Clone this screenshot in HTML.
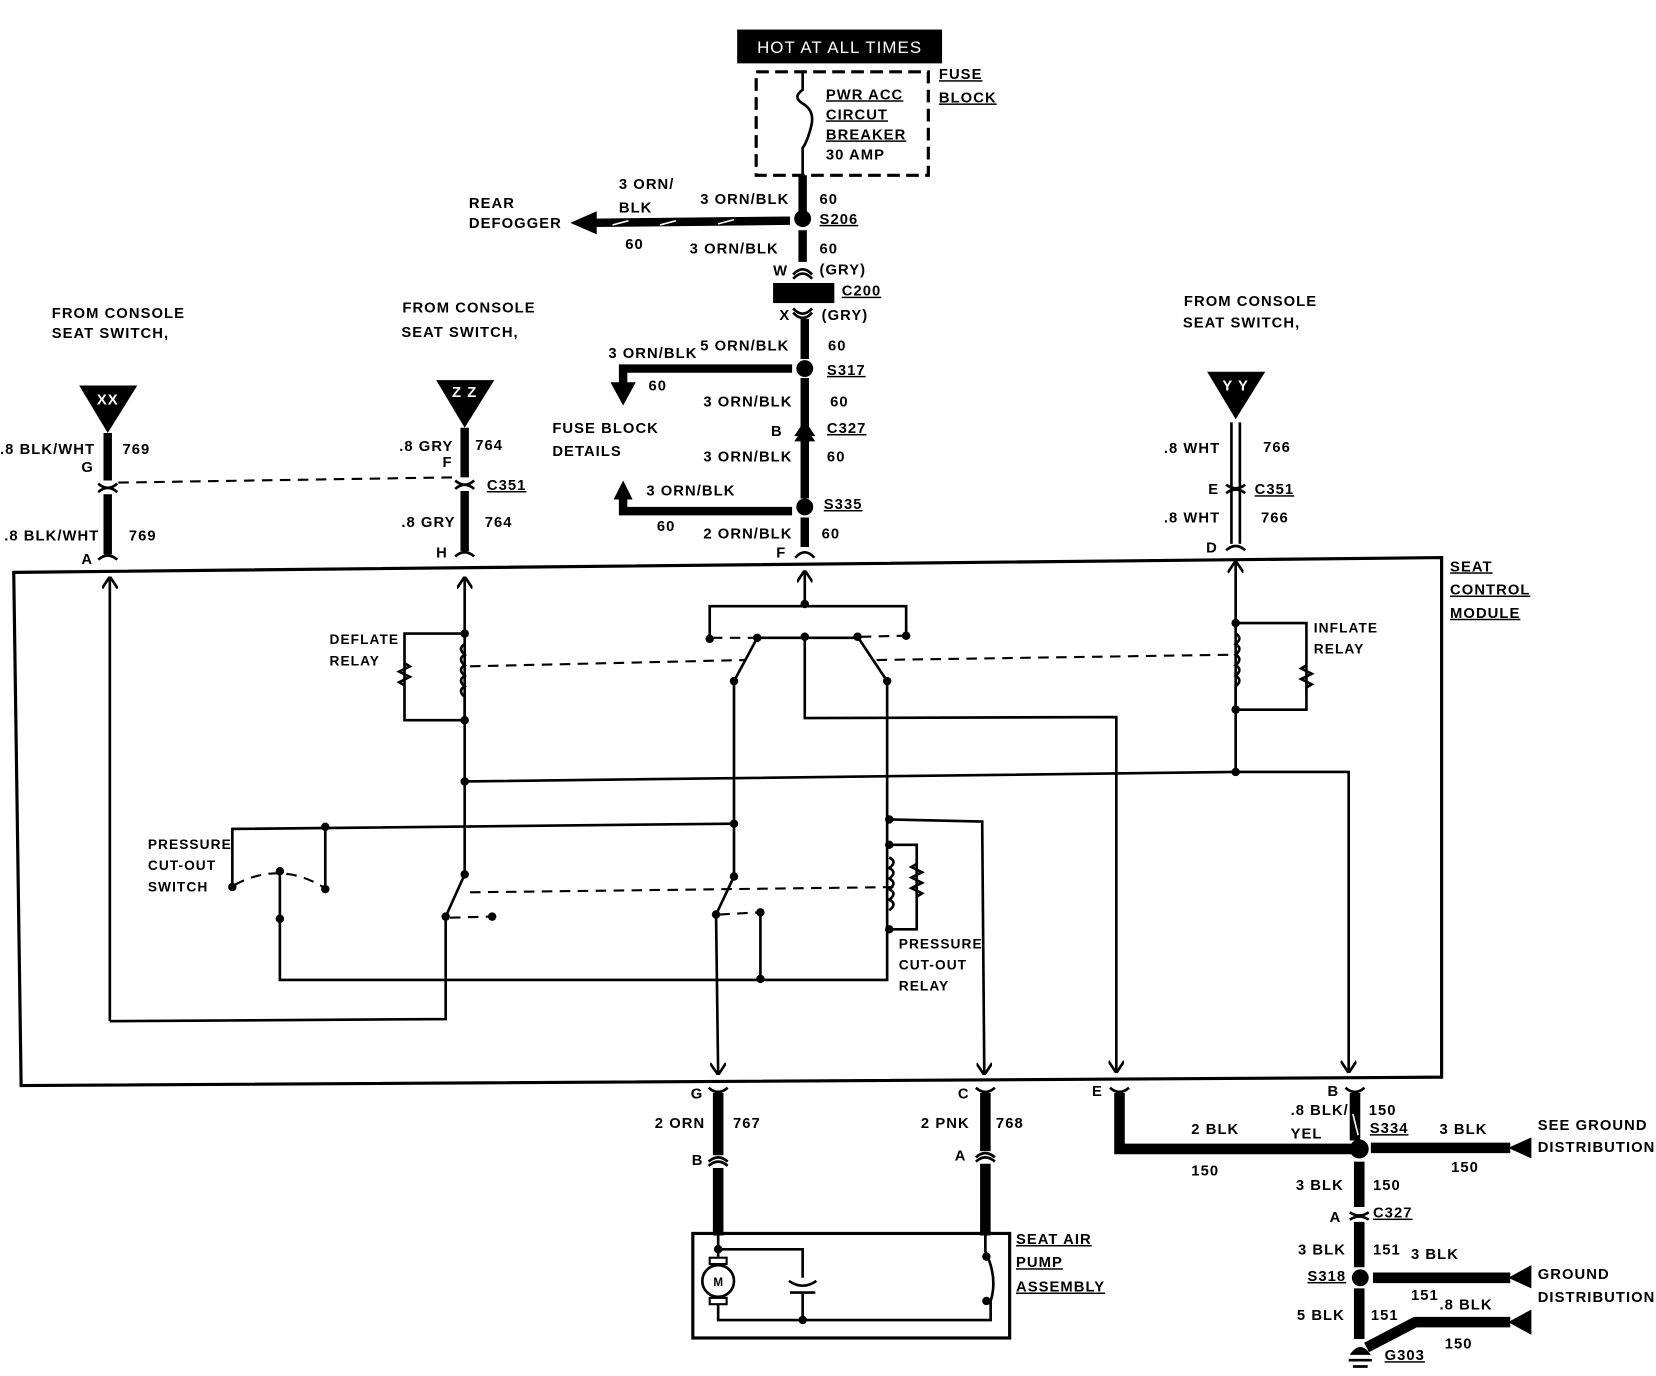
<!DOCTYPE html>
<html><head><meta charset="utf-8"><style>
html,body{margin:0;padding:0;background:#fff;}
svg{display:block;}
text{font-family:"Liberation Sans",sans-serif;font-weight:bold;font-size:14px;letter-spacing:1px;fill:#000;}
.u{text-decoration:underline;}
.t{stroke:#000;fill:none;stroke-width:2.5;}
.w{stroke:#000;fill:none;stroke-width:8;}
.wb{stroke:#000;fill:none;stroke-width:10;}
.d{stroke:#000;fill:none;stroke-width:2;stroke-dasharray:10 7;}
.s{stroke:#fff;stroke-width:1.5;}
</style></head><body>
<svg width="1656" height="1376" viewBox="0 0 1568 1303" preserveAspectRatio="none" xmlns="http://www.w3.org/2000/svg">
<defs>
<marker id="ah" viewBox="0 0 10 12" refX="10" refY="6" markerWidth="5" markerHeight="6" orient="auto" markerUnits="strokeWidth"><path d="M1,0 L10,6 L1,12" fill="none" stroke="#000" stroke-width="2"/></marker>
</defs>

<!-- HOT AT ALL TIMES -->
<rect x="698" y="28" width="194" height="32" fill="#000"/>
<text x="795" y="50" text-anchor="middle" style="fill:#fff;font-weight:normal;font-size:16px">HOT AT ALL TIMES</text>
<rect x="716" y="68" width="163" height="98" fill="none" stroke="#000" stroke-width="3" stroke-dasharray="12 6"/>
<path class="t" d="M760,68 V85 Q750,92 760,98 Q772,105 768,120 Q764,135 760,140 V166" stroke-width="4"/>
<g style="font-size:16px;letter-spacing:0">
<text x="782" y="94" class="u">PWR ACC</text>
<text x="782" y="113" class="u">CIRCUT</text>
<text x="782" y="132" class="u">BREAKER</text>
<text x="782" y="151">30 AMP</text>
</g>
<text x="889" y="75" class="u">FUSE</text>
<text x="889" y="97" class="u">BLOCK</text>

<!-- main feed -->
<line class="w" x1="760" y1="166" x2="760" y2="200"/>
<circle cx="760" cy="207" r="8"/>
<line class="w" x1="560" y1="211" x2="748" y2="209"/>
<path d="M540,211 L565,200 L565,222Z"/>
<line class="s" x1="580" y1="213" x2="595" y2="209"/><line class="s" x1="625" y1="213" x2="640" y2="209"/><line class="s" x1="680" y1="212" x2="695" y2="208"/>
<text x="444" y="197">REAR</text><text x="444" y="216">DEFOGGER</text>
<text x="586" y="179">3 ORN/</text><text x="586" y="201">BLK</text>
<text x="663" y="193">3 ORN/BLK</text><text x="776" y="193">60</text>
<text x="776" y="212" class="u">S206</text>
<text x="592" y="236">60</text>
<text x="653" y="240">3 ORN/BLK</text><text x="776" y="240">60</text>
<line class="w" x1="760" y1="218" x2="760" y2="248"/>
<path class="t" d="M751,260 Q760,250 769,260 M751,264 Q760,254 769,264" stroke-width="3"/>
<text x="732" y="261">W</text><text x="776" y="260">(GRY)</text>
<rect x="732" y="268" width="58" height="19" fill="#000"/>
<text x="797" y="280" class="u">C200</text>
<path class="t" d="M751,292 Q760,302 769,292 M751,296 Q760,306 769,296" stroke-width="3"/>
<text x="738" y="303">X</text><text x="778" y="303">(GRY)</text>
<line class="w" x1="762" y1="302" x2="762" y2="340"/>
<circle cx="762" cy="349" r="8"/>
<text x="576" y="339">3 ORN/BLK</text><text x="663" y="332">5 ORN/BLK</text><text x="784" y="332">60</text>
<text x="783" y="355" class="u">S317</text>
<path class="w" d="M750,349 H590 V365"/>
<path d="M578,362 L602,362 L590,384Z"/>
<text x="614" y="370">60</text>
<text x="666" y="385">3 ORN/BLK</text><text x="786" y="385">60</text>
<text x="523" y="410">FUSE BLOCK</text><text x="523" y="432">DETAILS</text>
<line class="w" x1="762" y1="358" x2="762" y2="472"/>
<path d="M752,413 L762,398 L772,413Z M752,418 L762,404 L772,418Z"/>
<text x="730" y="413">B</text><text x="783" y="410" class="u">C327</text>
<text x="666" y="437">3 ORN/BLK</text><text x="783" y="437">60</text>
<circle cx="762" cy="480" r="8"/>
<text x="780" y="482" class="u">S335</text>
<text x="612" y="469">3 ORN/BLK</text>
<path class="w" d="M750,484 H590 V470"/>
<path d="M581,473 L599,473 L590,455Z"/>
<text x="622" y="503">60</text>
<text x="666" y="510">2 ORN/BLK</text><text x="778" y="510">60</text>
<line class="w" x1="762" y1="490" x2="762" y2="518"/>
<path class="t" d="M753,528 Q762,518 771,528" stroke-width="3"/>
<text x="735" y="528">F</text>

<!-- module box -->
<path d="M13,542 L1365,528 L1365,1020 L20,1028 Z" fill="none" stroke="#000" stroke-width="3"/>
<text x="1373" y="541" class="u">SEAT</text>
<text x="1373" y="563" class="u">CONTROL</text>
<text x="1373" y="585" class="u">MODULE</text>

<!-- XX -->
<text x="49" y="301">FROM CONSOLE</text><text x="49" y="320">SEAT SWITCH,</text>
<path d="M75,365 L130,365 L102,410Z"/>
<text x="102" y="383" text-anchor="middle" style="fill:#fff">XX</text>
<line class="w" x1="102" y1="410" x2="102" y2="455"/>
<line class="w" x1="102" y1="468" x2="102" y2="525"/>
<path class="t" d="M93,458 Q102,466 111,458 M93,466 Q102,458 111,466 M93,530 Q102,522 111,530" stroke-width="3"/>
<text x="0" y="430">.8 BLK/WHT</text><text x="116" y="430">769</text><text x="77" y="447">G</text>
<text x="4" y="512">.8 BLK/WHT</text><text x="122" y="512">769</text><text x="77" y="534">A</text>
<line class="d" x1="112" y1="457" x2="432" y2="452"/>

<!-- ZZ -->
<text x="381" y="296">FROM CONSOLE</text><text x="380" y="319">SEAT SWITCH,</text>
<path d="M413,360 L468,360 L440,405Z"/>
<text x="440" y="376" text-anchor="middle" style="fill:#fff">Z Z</text>
<line class="w" x1="440" y1="405" x2="440" y2="452"/>
<line class="w" x1="440" y1="465" x2="440" y2="522"/>
<path class="t" d="M431,455 Q440,463 449,455 M431,463 Q440,455 449,463 M431,527 Q440,519 449,527" stroke-width="3"/>
<text x="378" y="427">.8 GRY</text><text x="450" y="426">764</text><text x="419" y="442">F</text>
<text x="461" y="464" class="u">C351</text>
<text x="380" y="499">.8 GRY</text><text x="459" y="499">764</text><text x="413" y="528">H</text>

<!-- YY -->
<text x="1121" y="290">FROM CONSOLE</text><text x="1120" y="310">SEAT SWITCH,</text>
<path d="M1143,352 L1198,352 L1170,397Z"/>
<text x="1170" y="370" text-anchor="middle" style="fill:#fff">Y Y</text>
<path class="t" d="M1166,400 V515 M1174,400 V515" stroke-width="2"/>
<path class="t" d="M1161,459 Q1170,466 1179,459 M1161,467 Q1170,460 1179,467 M1161,521 Q1170,513 1179,521" stroke-width="3"/>
<text x="1102" y="429">.8 WHT</text><text x="1196" y="428">766</text>
<text x="1144" y="468">E</text><text x="1188" y="468" class="u">C351</text>
<text x="1102" y="495">.8 WHT</text><text x="1194" y="495">766</text>
<text x="1142" y="523">D</text>

<!-- interior left -->
<path class="t" d="M104,967 L104,546" marker-end="url(#ah)"/>
<path class="t" d="M104,967 L422,965 L422,870"/>
<path class="t" d="M440,828 L440,546" marker-end="url(#ah)"/>
<path class="t" d="M440,600 H383 V682 H440"/>
<path class="t" d="M440,610 q-7,4 0,10 q-7,4 0,10 q-7,4 0,10 q-7,4 0,10 q-7,4 0,10 V682"/>
<path class="t" d="M383,628 l5,3 l-10,5 l10,5 l-10,5 l5,3"/>
<circle cx="440" cy="600" r="4"/><circle cx="440" cy="682" r="4"/><circle cx="440" cy="740" r="4"/><circle cx="440" cy="828" r="4"/>
<text x="312" y="610" style="font-size:13px">DEFLATE</text><text x="312" y="630" style="font-size:13px">RELAY</text>
<line class="d" x1="445" y1="631" x2="705" y2="625"/>
<line class="d" x1="830" y1="625" x2="1165" y2="620"/>
<path class="t" d="M440,740 L1170,731 L1277,731 L1277,1016" marker-end="url(#ah)"/>
<!-- pressure switch -->
<path class="t" d="M220,840 V785 L695,780"/>
<path class="t" d="M308,783 V842"/>
<circle cx="308" cy="783" r="4"/><circle cx="220" cy="840" r="4"/><circle cx="308" cy="842" r="4"/>
<path class="d" d="M222,838 Q265,815 306,840"/>
<circle cx="265" cy="825" r="4"/>
<path class="t" d="M265,825 V928 H840 V880"/>
<circle cx="265" cy="870" r="4"/>
<text x="140" y="804" style="font-size:13px">PRESSURE</text><text x="140" y="824" style="font-size:13px">CUT-OUT</text><text x="140" y="844" style="font-size:13px">SWITCH</text>
<path class="t" d="M440,828 L422,868"/>
<circle cx="422" cy="868" r="4"/>
<line class="d" x1="426" y1="869" x2="464" y2="868"/><circle cx="466" cy="868" r="4"/>
<line class="d" x1="445" y1="845" x2="848" y2="840"/>

<!-- top center switches -->
<path class="t" d="M762,572 L762,540" marker-end="url(#ah)"/>
<circle cx="762" cy="572" r="4"/>
<path class="t" d="M672,605 V574 H858 V602"/>
<circle cx="672" cy="605" r="4"/><circle cx="858" cy="602" r="4"/>
<line class="d" x1="674" y1="604" x2="715" y2="604"/><line class="d" x1="815" y1="603" x2="856" y2="602"/>
<path class="t" d="M717,604 H812"/>
<circle cx="717" cy="604" r="4"/><circle cx="762" cy="603" r="4"/><circle cx="812" cy="603" r="4"/>
<path class="t" d="M717,604 L695,645 M812,603 L840,645"/>
<circle cx="695" cy="645" r="4"/><circle cx="840" cy="645" r="4"/>
<path class="t" d="M762,603 V680 L1057,679 L1057,1016" marker-end="url(#ah)"/>
<path class="t" d="M695,645 V830 L678,866"/>
<circle cx="695" cy="780" r="4"/><circle cx="695" cy="830" r="4"/><circle cx="678" cy="866" r="4"/>
<path class="t" d="M678,866 L680,1018" marker-end="url(#ah)"/>
<line class="d" x1="681" y1="866" x2="718" y2="864"/>
<circle cx="720" cy="864" r="4"/>
<path class="t" d="M720,864 V927"/><circle cx="720" cy="927" r="4"/>
<path class="t" d="M840,645 V880"/>
<circle cx="842" cy="776" r="4"/><circle cx="842" cy="800" r="4"/><circle cx="842" cy="880" r="4"/>
<path class="t" d="M842,776 L930,778 L932,1018" marker-end="url(#ah)"/>
<path class="t" d="M842,800 H868 V880 H842"/>
<path class="t" d="M842,812 q8,4 0,10 q8,4 0,10 q8,4 0,10 q8,4 0,10 q8,4 0,10"/>
<path class="t" d="M868,818 l-5,3 l10,5 l-10,5 l10,5 l-10,5 l10,5 l-5,3"/>
<text x="851" y="898" style="font-size:13px">PRESSURE</text><text x="851" y="918" style="font-size:13px">CUT-OUT</text><text x="851" y="938" style="font-size:13px">RELAY</text>

<!-- inflate relay -->
<path class="t" d="M1170,731 L1170,531" marker-end="url(#ah)"/>
<path class="t" d="M1170,590 H1237 V672 H1170"/>
<path class="t" d="M1170,600 q7,4 0,10 q7,4 0,10 q7,4 0,10 q7,4 0,10 q7,4 0,10 V672"/>
<path class="t" d="M1237,630 l-5,3 l10,5 l-10,5 l10,5 l-5,3"/>
<circle cx="1170" cy="590" r="4"/><circle cx="1170" cy="672" r="4"/><circle cx="1170" cy="731" r="4"/>
<text x="1244" y="599" style="font-size:13px">INFLATE</text><text x="1244" y="619" style="font-size:13px">RELAY</text>

<!-- bottom connectors -->
<path class="t" d="M671,1030 Q680,1038 689,1030 M924,1030 Q933,1038 942,1030 M1051,1030 Q1060,1038 1069,1030 M1274,1030 Q1283,1038 1292,1030" stroke-width="3"/>
<line class="wb" x1="680" y1="1035" x2="680" y2="1094"/>
<line class="wb" x1="680" y1="1106" x2="680" y2="1170"/>
<path class="t" d="M671,1100 Q680,1092 689,1100 M671,1104 Q680,1096 689,1104" stroke-width="3"/>
<text x="654" y="1040">G</text><text x="620" y="1068">2 ORN</text><text x="694" y="1068">767</text><text x="655" y="1103">B</text>
<line class="wb" x1="933" y1="1035" x2="933" y2="1090"/>
<line class="wb" x1="933" y1="1102" x2="933" y2="1170"/>
<path class="t" d="M924,1096 Q933,1088 942,1096 M924,1100 Q933,1092 942,1100" stroke-width="3"/>
<text x="907" y="1040">C</text><text x="872" y="1068">2 PNK</text><text x="943" y="1068">768</text><text x="904" y="1099">A</text>
<rect x="656" y="1168" width="300" height="99" fill="none" stroke="#000" stroke-width="3"/>
<text x="962" y="1178" class="u">SEAT AIR</text><text x="962" y="1200" class="u">PUMP</text><text x="962" y="1223" class="u">ASSEMBLY</text>
<path class="t" d="M680,1170 V1183 H760 V1210 M760,1225 V1250 H680 V1235 M680,1183 V1190"/>
<circle cx="680" cy="1183" r="4"/><circle cx="760" cy="1250" r="4"/>
<circle cx="680" cy="1213" r="15" fill="none" stroke="#000" stroke-width="2.5"/>
<rect x="672" y="1191" width="16" height="6" fill="none" stroke="#000" stroke-width="2"/>
<rect x="672" y="1229" width="16" height="6" fill="none" stroke="#000" stroke-width="2"/>
<text x="680" y="1218" text-anchor="middle" style="font-size:11px;letter-spacing:0">M</text>
<path class="t" d="M747,1213 Q760,1222 773,1213 M748,1224 H772"/>
<path class="t" d="M933,1170 V1185 Q945,1210 938,1232 V1250 H760"/>
<circle cx="934" cy="1190" r="4"/><circle cx="934" cy="1232" r="4"/>

<!-- ground side -->
<path class="wb" d="M1060,1035 V1088 H1280"/>
<text x="1034" y="1038">E</text>
<text x="1128" y="1074">2 BLK</text><text x="1128" y="1113">150</text>
<line class="wb" x1="1283" y1="1035" x2="1283" y2="1080"/>
<line class="s" x1="1281" y1="1055" x2="1286" y2="1075"/>
<text x="1257" y="1038">B</text><text x="1222" y="1056">.8 BLK/</text><text x="1222" y="1078">YEL</text>
<text x="1296" y="1056">150</text><text x="1297" y="1073" class="u">S334</text>
<circle cx="1287" cy="1088" r="9"/>
<line class="wb" x1="1298" y1="1087" x2="1430" y2="1087"/>
<path d="M1428,1087 L1450,1077 L1450,1097Z"/>
<text x="1363" y="1074">3 BLK</text><text x="1374" y="1110">150</text>
<text x="1456" y="1070">SEE GROUND</text><text x="1456" y="1091">DISTRIBUTION</text>
<line class="wb" x1="1287" y1="1100" x2="1287" y2="1143"/>
<line class="wb" x1="1287" y1="1157" x2="1287" y2="1200"/>
<path class="t" d="M1278,1148 Q1287,1154 1296,1148 M1278,1155 Q1287,1149 1296,1155" stroke-width="3"/>
<text x="1227" y="1127">3 BLK</text><text x="1300" y="1127">150</text>
<text x="1259" y="1157">A</text><text x="1300" y="1153" class="u">C327</text>
<text x="1229" y="1188">3 BLK</text><text x="1300" y="1188">151</text><text x="1336" y="1192">3 BLK</text>
<text x="1238" y="1213" class="u">S318</text>
<circle cx="1288" cy="1210" r="8"/>
<line class="wb" x1="1300" y1="1210" x2="1430" y2="1210"/>
<path d="M1428,1210 L1450,1198 L1450,1220Z"/>
<text x="1456" y="1211">GROUND</text><text x="1456" y="1233">DISTRIBUTION</text>
<text x="1336" y="1231">151</text><text x="1363" y="1240">.8 BLK</text>
<line class="wb" x1="1287" y1="1220" x2="1287" y2="1268"/>
<text x="1228" y="1250">5 BLK</text><text x="1298" y="1250">151</text>
<path class="wb" d="M1294,1276 L1340,1252 H1430"/>
<path d="M1428,1252 L1450,1240 L1450,1264Z"/>
<text x="1368" y="1277">150</text>
<path d="M1278,1283 Q1288,1268 1298,1283Z"/>
<path class="t" d="M1277,1288 H1299 M1281,1294 H1295" stroke-width="3"/>
<text x="1311" y="1288" class="u">G303</text>
</svg>
</body></html>
